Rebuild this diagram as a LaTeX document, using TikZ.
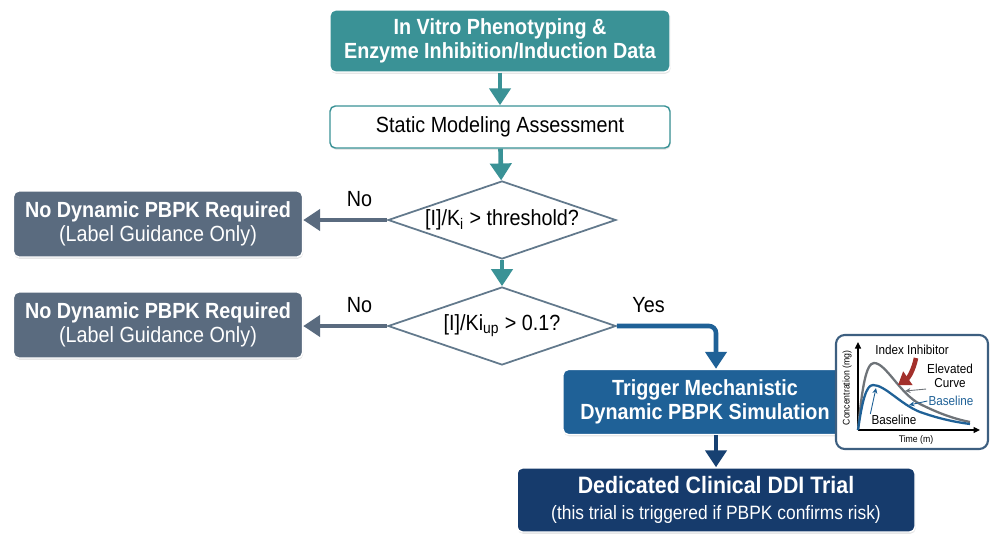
\documentclass[tikz,border=0pt]{standalone}
\usepackage{fontspec}
\setmainfont[FakeStretch=0.9]{Liberation Sans}
\usetikzlibrary{arrows.meta,shapes.geometric,shadows,calc}
\definecolor{petrol}{HTML}{3A9296}
\definecolor{schiefer}{HTML}{5A6B7F}
\definecolor{blau}{HTML}{1F6197}
\definecolor{marine}{HTML}{163B6C}
\definecolor{rahmen}{HTML}{62798C}
\definecolor{inset}{HTML}{3D5F80}
\definecolor{kgrau}{HTML}{6E7378}
\definecolor{rot}{HTML}{A3302B}
\tikzset{
  kasten/.style={rectangle,rounded corners=3pt,align=center,text=white,draw=white,line width=0.8pt,
    drop shadow={opacity=0.2,shadow xshift=0.4pt,shadow yshift=-1pt},
    font=\fontsize{12.5}{13.5}\selectfont\bfseries},
  raute/.style={diamond,aspect=3,draw=rahmen,line width=1pt,fill=white,inner sep=0pt,
    minimum width=4.56cm,minimum height=1.56cm,font=\fontsize{12.5}{13.5}\selectfont},
  pfeil/.style={-{Triangle[length=3.4mm,width=4.2mm]},line width=2.6pt},
  zeiger/.style={-{Stealth[length=1.1mm,width=1mm]},line width=0.5pt},
  achse/.style={-{Triangle[length=1.3mm,width=1.2mm]},line width=0.7pt},
  kurve/.style={line width=1.3pt},
  etikett/.style={font=\fontsize{12.5}{13.5}\selectfont,text=black},
  klein/.style={font=\fontsize{7.4}{8}\selectfont,inner sep=0.5pt},
}
\begin{document}
\begin{tikzpicture}[x=0.02cm,y=-0.02cm]
  \useasboundingbox (0,0) rectangle (1000,545);
  \node[kasten,fill=petrol,minimum width=6.8cm,minimum height=1.24cm] (daten) at (500,41)
    {In Vitro Phenotyping \&\\Enzyme Inhibition/Induction Data};
  \node[kasten,fill=white,draw=petrol,text=black,font=\fontsize{12.5}{13.5}\selectfont,
    minimum width=6.8cm,minimum height=0.84cm] (statik) at (500,127) {Static Modeling Assessment};
  \node[raute] (r1) at (502,220) {[I]/K\textsubscript{i} > threshold?};
  \node[raute] (r2) at (502,326) {[I]/Ki\textsubscript{up} > 0.1?};
  \node[kasten,fill=schiefer,minimum width=5.78cm,minimum height=1.32cm] (nein1) at (158,224)
    {No Dynamic PBPK Required\\\mdseries (Label Guidance Only)};
  \node[kasten,fill=schiefer,minimum width=5.78cm,minimum height=1.32cm] (nein2) at (158,325)
    {No Dynamic PBPK Required\\\mdseries (Label Guidance Only)};
  \node[kasten,fill=blau,minimum width=5.68cm,minimum height=1.3cm] (sim) at (705,402)
    {Trigger Mechanistic\\Dynamic PBPK Simulation};
  \node[kasten,fill=marine,minimum width=7.96cm,minimum height=1.28cm] (studie) at (716,500)
    {{\fontsize{13.5}{15}\selectfont Dedicated Clinical DDI Trial}\\[1pt]
     {\fontsize{11}{12}\selectfont\mdseries (this trial is triggered if PBPK confirms risk)}};

  \draw[pfeil,petrol] (daten) -- (statik);
  \draw[pfeil,petrol] (statik) -- (r1);
  \draw[pfeil,petrol] (r1) -- (r2);
  \draw[pfeil,schiefer] (r1.west) -- (r1.west -| nein1.east) node[etikett,pos=0.33,above=3pt] (nein1txt) {No};
  \draw[pfeil,schiefer] (r2.west) -- (r2.west -| nein2.east) node[etikett,pos=0.33,above=3pt] (nein2txt) {No};
  \draw[pfeil,blau,rounded corners=4pt] (r2.east) -| (studie.north |- sim.north) node[etikett,pos=0.16,above=3pt] (jatxt) {Yes};
  \draw[pfeil,marine!85!blau] (sim.south -| studie.north) -- (studie.north);

  \draw[draw=inset,fill=white,line width=1.2pt,rounded corners=5pt] (836,335) rectangle (988,449);
  \coordinate (o) at (858,430);
  \draw[achse] (o) -- (858,342);
  \draw[achse] (o) -- (980,430);
  \draw[kurve,kgrau] (o) .. controls (862,388) and (866,363) .. (874,363)
    .. controls (886,363) and (900,394) .. (920,404) .. controls (940,414) and (955,419) .. (970,422);
  \draw[kurve,blau] (o) .. controls (862,402) and (866,385) .. (873,385)
    .. controls (885,385) and (900,404) .. (920,412) .. controls (940,419) and (955,422) .. (970,424);
  \draw[-{Triangle[length=2.4mm,width=3.2mm]},line width=2.6pt,rot] (916,358) to[bend left=22] (898,385);
  \node[klein] (lindex) at (912,350) {Index Inhibitor};
  \node[klein,align=center] (lhoch) at (950,376) {Elevated\\Curve};
  \node[klein,text=blau] (lbasis1) at (951,401) {Baseline};
  \node[klein] (lbasis2) at (894,420) {Baseline};
  \node[klein,font=\fontsize{5.5}{6}\selectfont,rotate=90] (lkonz) at (847,388) {Concentration (mg)};
  \node[klein,font=\fontsize{5.5}{6}\selectfont] (lzeit) at (916,440) {Time (m)};
  \coordinate (pgrau) at (905,391);
  \coordinate (pblau) at (909,405);
  \coordinate (pspitze) at (876,388);
  \draw[zeiger,kgrau] (lhoch.south west) -- (pgrau);
  \draw[zeiger,blau] (lbasis1.west) -- (pblau);
  \draw[zeiger,blau] (lbasis2.north west) -- (pspitze);
\end{tikzpicture}
\end{document}
